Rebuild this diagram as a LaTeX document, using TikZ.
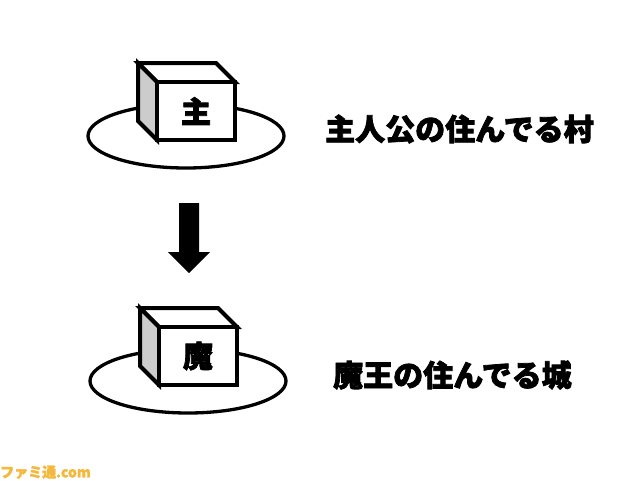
\documentclass[tikz,border=0pt]{standalone}
\usepackage{fontspec}
\newfontfamily\cjk{Noto Sans CJK JP}[BoldFont={Noto Sans CJK JP Black}, BoldFeatures={FakeBold=2.5}]
\tikzset{
	plate/.style={line width=3.3pt},
	cube/.style={line width=4pt, line join=miter, fill=white},
	cubeside/.style={cube, fill=black!20},
	place/.style={font=\cjk\bfseries\fontsize{30pt}{30pt}\selectfont, inner sep=0pt}
}
\begin{document}
\begin{tikzpicture}[x=1pt, y=-1pt]
						\useasboundingbox (0,0) rectangle (640,480);
						\foreach \dx/\dy/\n/\t in {0/0/home/主, 2/245/castle/魔}{
							\begin{scope}[shift={(\dx,\dy)}]
								\draw[plate] (186,136) ellipse (98 and 32);
								\draw[cube] (138,63) -- (216,63) -- (235,82) -- (157,82) -- cycle;
								\draw[cubeside] (138,63) -- (157,82) -- (157,140) -- (138,121) -- cycle;
								\draw[cube] (157,82) rectangle (235,140);
								\node[place] (\n) at (196,111) {\t};
							\end{scope}
						}
						\node[place, anchor=west] (homename) at (325,129) {主人公の住んでる村};
						\node[place, anchor=west] (castlename) at (333,375) {魔王の住んでる城};
						\fill (179,203) -- (199,203) -- (199,252) -- (210,252) -- (189,273) -- (168,252) -- (179,252) -- cycle;
						\node[font=\cjk\bfseries\fontsize{14pt}{14pt}\selectfont, text={rgb,255:red,243;green,184;blue,60}, anchor=south west, inner sep=0pt] (logo) at (0,479) {ファミ通.com};
					\end{tikzpicture}
\end{document}
